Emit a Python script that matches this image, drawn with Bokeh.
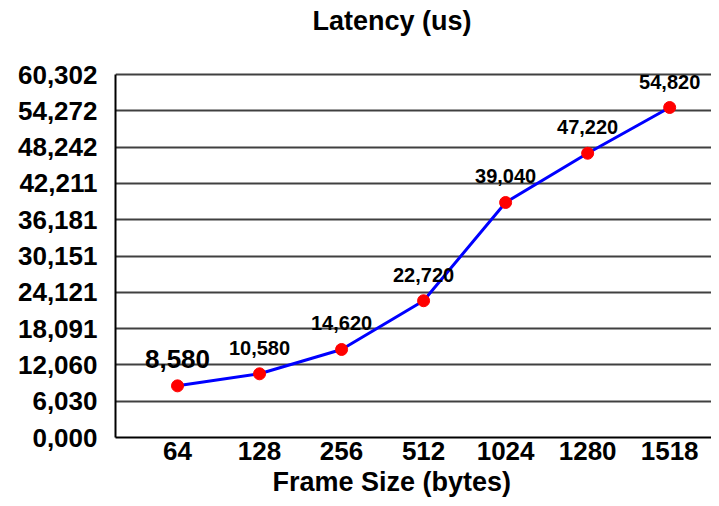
from bokeh.plotting import figure
from bokeh.models import Range1d, FixedTicker, ColumnDataSource, LabelSet, Label, Title
from bokeh.core.properties import value
from bokeh.embed import file_html
from bokeh.resources import INLINE

# ---- data ----
frame_sizes = ["64", "128", "256", "512", "1024", "1280", "1518"]
latency_us = [8580, 10580, 14620, 22720, 39040, 47220, 54820]
latency_labels = ["8,580", "10,580", "14,620", "22,720", "39,040", "47,220", "54,820"]
y_ticks = [0, 6030.2, 12060.4, 18090.6, 24120.8, 30151.0, 36181.2, 42211.4, 48241.6, 54271.8, 60302.0]
y_tick_labels = ["0,000", "6,030", "12,060", "18,091", "24,121", "30,151",
                 "36,181", "42,211", "48,242", "54,272", "60,302"]
title_text = "Latency (us)"
x_title_text = "Frame Size (bytes)"

FONT = "Liberation Sans"
x_idx = list(range(len(frame_sizes)))

# layout (pixels): plot frame spans the full top so the title can sit inside it
FRAME_BOTTOM = 437
GRID_TOP = 74
y_max = y_ticks[-1]
y_end = y_max * FRAME_BOTTOM / (FRAME_BOTTOM - GRID_TOP)

p = figure(width=711, height=498,
           x_range=Range1d(-0.756, 6.51), y_range=Range1d(0, y_end),
           output_backend="svg", toolbar_location=None,
           min_border_left=115, min_border_right=0,
           min_border_top=0, min_border_bottom=61)

p.outline_line_color = None
p.background_fill_color = "white"
p.border_fill_color = "white"

# axes
p.xaxis.ticker = FixedTicker(ticks=x_idx)
p.xaxis.major_label_overrides = {i: s for i, s in zip(x_idx, frame_sizes)}
p.yaxis.ticker = FixedTicker(ticks=y_ticks)
p.yaxis.major_label_overrides = {t: s for t, s in zip(y_ticks, y_tick_labels)}
p.yaxis.bounds = (0, y_max)
for ax in (p.xaxis[0], p.yaxis[0]):
    ax.major_tick_out = 0
    ax.major_tick_in = 0
    ax.minor_tick_out = 0
    ax.minor_tick_in = 0
    ax.axis_line_color = "black"
    ax.axis_line_width = 2
    ax.major_label_text_font = FONT
    ax.major_label_text_font_size = "26px"
    ax.major_label_text_font_style = "bold"
    ax.major_label_text_color = "black"
p.yaxis.major_label_standoff = 18
p.xaxis.major_label_standoff = 4

p.xgrid.grid_line_color = None
p.ygrid.grid_line_color = "#404040"
p.ygrid.grid_line_width = 2

# chart title inside the (empty) top part of the frame
p.add_layout(Label(x=197, y=FRAME_BOTTOM - 20, x_units="screen", y_units="screen",
                   text=title_text, text_align="left", text_baseline="alphabetic",
                   text_font=FONT, text_font_size="27px", text_font_style="bold",
                   text_color="black"))

x_title = Title(text=x_title_text, align="left", offset=157,
                text_font=FONT, text_font_size="27px", text_font_style="bold",
                text_color="black", standoff=4)
p.add_layout(x_title, "below")

# series
src = ColumnDataSource(dict(x=x_idx, y=latency_us, lab=latency_labels))
p.line("x", "y", source=src, line_color="#0000ff", line_width=3)
p.scatter("x", "y", source=src, size=12, fill_color="#ff0000", line_color="#ff0000")

first = ColumnDataSource(dict(x=x_idx[:1], y=latency_us[:1], lab=latency_labels[:1]))
rest = ColumnDataSource(dict(x=x_idx[1:], y=latency_us[1:], lab=latency_labels[1:]))
p.add_layout(LabelSet(x="x", y="y", text="lab", source=first, y_offset=18,
                      text_align="center", text_baseline="alphabetic",
                      text_font=value(FONT), text_font_size=value("26px"),
                      text_font_style="bold", text_color="black"))
p.add_layout(LabelSet(x="x", y="y", text="lab", source=rest, y_offset=19,
                      text_align="center", text_baseline="alphabetic",
                      text_font=value(FONT), text_font_size=value("20px"),
                      text_font_style="bold", text_color="black"))

open("out.html", "w").write(file_html(p, INLINE))
